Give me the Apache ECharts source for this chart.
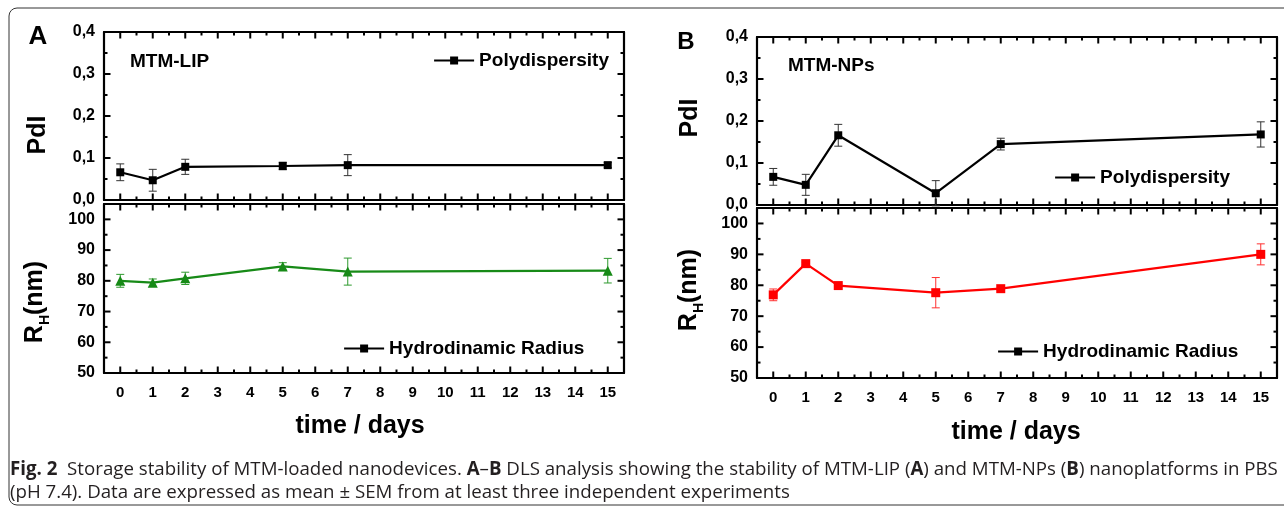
<!DOCTYPE html>
<html>
<head>
<meta charset="utf-8">
<script src="https://cdn.jsdelivr.net/npm/echarts@6/dist/echarts.min.js"></script>
<style>html,body{margin:0;padding:0;background:#fff;}#c{width:1284px;height:511px;background:#fff;}</style>
</head>
<body>
<div id="c"></div>
<script>
// ---------- data ----------
const days = [0, 1, 2, 5, 7, 15];
const lipPdi = [0.066, 0.047, 0.079, 0.081, 0.083, 0.083];
const lipPdiErr = [0.020, 0.026, 0.018, 0.009, 0.025, 0.006];
const lipRh = [80.0, 79.4, 80.8, 84.7, 83.0, 83.3];
const lipRhErr = [2.1, 1.2, 2.0, 1.2, 4.4, 4.0];
const npPdi = [0.067, 0.048, 0.166, 0.028, 0.145, 0.168];
const npPdiErr = [0.020, 0.025, 0.026, 0.030, 0.014, 0.030];
const npRh = [76.9, 87.0, 79.9, 77.6, 78.9, 90.0];
const npRhErr = [1.9, 0.5, 0.7, 4.9, 0.5, 3.4];

// ---------- tick values ----------
const xLabels = [0, 1, 2, 3, 4, 5, 6, 7, 8, 9, 10, 11, 12, 13, 14, 15];
const xMinor = [0.5, 1.5, 2.5, 3.5, 4.5, 5.5, 6.5, 7.5, 8.5, 9.5, 10.5, 11.5, 12.5, 13.5, 14.5];
const pdiLabels = [0, 0.1, 0.2, 0.3, 0.4];
const pdiMinor = [0.05, 0.15, 0.25, 0.35];
const rhLabels = [50, 60, 70, 80, 90, 100];
const rhMinor = [55, 65, 75, 85, 95];

// axis ranges
const X_RANGE = [-0.5, 15.5];
const PDI_RANGE = [0, 0.4];
const RH_RANGE = [50, 105];

const FONT = 'Liberation Sans, Arial, sans-serif';
const chart = echarts.init(document.getElementById('c'));

const grids = [
  {left: 104, top: 32, width: 520, height: 168},
  {left: 104, top: 204, width: 520, height: 169},
  {left: 757, top: 37, width: 520, height: 168},
  {left: 757, top: 208, width: 520, height: 170}
];

const MAJOR = 6.5, MINOR = 3.5;
const xAxes = [], yAxes = [];
function xAxis(g, pos, labels) {
  xAxes.push({
    type: 'value', gridIndex: g, position: pos, min: X_RANGE[0], max: X_RANGE[1],
    splitLine: {show: false}, axisTick: {show: false}, minorTick: {show: false},
    axisLine: {show: true, onZero: false, lineStyle: {color: '#000', width: 2.2}},
    axisLabel: {show: labels, customValues: xLabels, color: '#000', fontWeight: 'bold', fontFamily: FONT, fontSize: 15, margin: 12}
  });
}
function yAxis(g, pos, labels, range, vals, fmt) {
  yAxes.push({
    type: 'value', gridIndex: g, position: pos, min: range[0], max: range[1],
    splitLine: {show: false}, axisTick: {show: false}, minorTick: {show: false},
    axisLine: {show: true, onZero: false, lineStyle: {color: '#000', width: 2.2}},
    axisLabel: {show: labels, customValues: vals, formatter: fmt,
      color: '#000', fontWeight: 'bold', fontFamily: FONT, fontSize: 16, margin: 9}
  });
}
const pdiFmt = v => v.toFixed(1).replace('.', ',');
const rhFmt = v => String(Math.round(v));
[0, 1, 2, 3].forEach(g => {
  xAxis(g, 'bottom', g === 1 || g === 3);
  xAxis(g, 'top', false);
  if (g % 2 === 0) {
    yAxis(g, 'left', true, PDI_RANGE, pdiLabels, pdiFmt);
    yAxis(g, 'right', false, PDI_RANGE, pdiLabels, pdiFmt);
  } else {
    yAxis(g, 'left', true, RH_RANGE, rhLabels, rhFmt);
    yAxis(g, 'right', false, RH_RANGE, rhLabels, rhFmt);
  }
});

const series = [];
// inward tick marks on all four sides; every end point comes from the axis scales via api.coord
function tickSeries(g, vals, dir, len, yRange) {
  const anchorY = (yRange[0] + yRange[1]) / 2, anchorX = 7;
  series.push({
    type: 'custom', name: 'ticks-' + g + '-' + dir + '-' + len, coordinateSystem: 'cartesian2d',
    xAxisIndex: 2 * g, yAxisIndex: 2 * g, encode: {x: 0, y: 1}, silent: true,
    itemStyle: {color: '#000'}, z: 2,
    data: vals.map(v => dir === 'x' ? [v, anchorY] : [anchorX, v]),
    renderItem: function (params, api) {
      const st = {stroke: '#000', lineWidth: 2};
      if (dir === 'x') {
        const v = api.value(0);
        const b = api.coord([v, yRange[0]]), t = api.coord([v, yRange[1]]);
        return {type: 'group', children: [
          {type: 'line', shape: {x1: b[0], y1: b[1], x2: b[0], y2: b[1] - len}, style: st},
          {type: 'line', shape: {x1: t[0], y1: t[1], x2: t[0], y2: t[1] + len}, style: st}
        ]};
      }
      const v = api.value(1);
      const l = api.coord([X_RANGE[0], v]), r = api.coord([X_RANGE[1], v]);
      return {type: 'group', children: [
        {type: 'line', shape: {x1: l[0], y1: l[1], x2: l[0] + len, y2: l[1]}, style: st},
        {type: 'line', shape: {x1: r[0], y1: r[1], x2: r[0] - len, y2: r[1]}, style: st}
      ]};
    }
  });
}
[0, 1, 2, 3].forEach(g => {
  const pdi = g % 2 === 0;
  const yr = pdi ? PDI_RANGE : RH_RANGE;
  tickSeries(g, xLabels, 'x', MAJOR, yr);
  tickSeries(g, xMinor, 'x', MINOR, yr);
  tickSeries(g, pdi ? pdiLabels : rhLabels, 'y', MAJOR, yr);
  tickSeries(g, pdi ? pdiMinor : rhMinor, 'y', MINOR, yr);
});

function errRender(params, api) {
  const x = api.value(0), y = api.value(1), e = api.value(2);
  const hi = api.coord([x, y + e]), lo = api.coord([x, y - e]);
  const w = 4;
  const st = {stroke: api.visual('color'), lineWidth: 1};
  return {type: 'group', children: [
    {type: 'line', shape: {x1: hi[0], y1: hi[1], x2: lo[0], y2: lo[1]}, style: st},
    {type: 'line', shape: {x1: hi[0] - w, y1: hi[1], x2: hi[0] + w, y2: hi[1]}, style: st},
    {type: 'line', shape: {x1: lo[0] - w, y1: lo[1], x2: lo[0] + w, y2: lo[1]}, style: st}
  ]};
}
function addSeries(g, name, vals, errs, color, errColor, sym, symSize) {
  series.push({
    type: 'custom', name: name + '-err-' + g, coordinateSystem: 'cartesian2d',
    xAxisIndex: 2 * g, yAxisIndex: 2 * g, renderItem: errRender,
    itemStyle: {color: errColor}, encode: {x: 0, y: 1}, silent: true,
    data: days.map((d, i) => [d, vals[i], errs[i]]), z: 2
  });
  series.push({
    type: 'line', name: name, xAxisIndex: 2 * g, yAxisIndex: 2 * g,
    symbol: 'rect', symbolSize: symSize,
    lineStyle: {color: color, width: 2.2}, itemStyle: {color: color},
    data: days.map((d, i) => ({value: [d, vals[i]], symbol: sym})),
    z: 3, silent: true
  });
}
addSeries(0, 'Polydispersity', lipPdi, lipPdiErr, '#000', '#333', 'rect', 8);
addSeries(1, 'Hydrodinamic Radius', lipRh, lipRhErr, '#178a17', '#2e9a2e', 'triangle', 10);
addSeries(2, 'Polydispersity', npPdi, npPdiErr, '#000', '#333', 'rect', 8);
addSeries(3, 'Hydrodinamic Radius', npRh, npRhErr, '#ff0000', '#ff3030', 'rect', 9);

function mkLegend(name, left, top) {
  return {
    left: left, top: top, padding: 0, itemWidth: 40, itemHeight: 10, selectedMode: false,
    textStyle: {color: '#000', fontWeight: 'bold', fontSize: 19, fontFamily: FONT},
    data: [{name: name, itemStyle: {color: '#000'}, lineStyle: {color: '#000', width: 2.2}}]
  };
}

const titleStyle = {fill: '#000', fontWeight: 'bold', fontFamily: FONT};
function txt(text, x, y, size, opts) {
  return Object.assign({type: 'text', x: x, y: y, silent: true,
    style: Object.assign({text: text, fontSize: size, align: 'center', verticalAlign: 'middle'}, titleStyle)}, opts || {});
}
function leftTxt(text, x, y, size) {
  return {type: 'text', x: x, y: y, silent: true,
    style: Object.assign({text: text, fontSize: size, align: 'left', verticalAlign: 'middle'}, titleStyle)};
}
function rhTitle(x, y) {
  return {type: 'text', x: x, y: y, rotation: Math.PI / 2, silent: true,
    style: {text: '{r|R}{s|H}{r|(nm)}', align: 'center', verticalAlign: 'middle', fill: '#000',
      rich: {r: {fontSize: 25, fontWeight: 'bold', fontFamily: FONT, fill: '#000', verticalAlign: 'bottom'},
             s: {fontSize: 14, fontWeight: 'bold', fontFamily: FONT, fill: '#000', verticalAlign: 'bottom', padding: [0, 0, -5, 0]}}}};
}
const CAP_FONT = 'Open Sans, sans-serif';
const CAP_SIZE = 18.7;
const capRich = {b: {fontWeight: 'bold', fontFamily: CAP_FONT, fontSize: CAP_SIZE, fill: '#231f20'}};

const option = {
  animation: false,
  grid: grids,
  xAxis: xAxes,
  yAxis: yAxes,
  legend: [
    mkLegend('Polydispersity', 433, 51),
    mkLegend('Hydrodinamic Radius', 343, 339),
    mkLegend('Polydispersity', 1054, 168),
    mkLegend('Hydrodinamic Radius', 997, 342)
  ],
  series: series,
  graphic: [
    {type: 'rect', silent: true, z: -10, shape: {x: 9, y: 8, width: 1290, height: 497, r: 8}, style: {fill: 'transparent', stroke: '#333', lineWidth: 1}},
    txt('A', 38, 37, 26),
    txt('B', 686, 42, 24),
    leftTxt('MTM-LIP', 130, 62, 19),
    leftTxt('MTM-NPs', 788, 66, 19),
    txt('PdI', 38, 135, 25, {rotation: Math.PI / 2}),
    txt('PdI', 690, 118, 25, {rotation: Math.PI / 2}),
    rhTitle(35, 302),
    rhTitle(689, 290),
    txt('time / days', 360, 426, 25),
    txt('time / days', 1016, 432, 25),
    {type: 'text', x: 10, y: 470, silent: true,
      style: {text: '{b|Fig. 2}  Storage stability of MTM-loaded nanodevices. {b|A}–{b|B} DLS analysis showing the stability of MTM-LIP ({b|A}) and MTM-NPs ({b|B}) nanoplatforms in PBS',
        fontFamily: CAP_FONT, fontSize: CAP_SIZE, fill: '#231f20', align: 'left', verticalAlign: 'middle', rich: capRich}},
    {type: 'text', x: 10, y: 493, silent: true,
      style: {text: '(pH 7.4). Data are expressed as mean ± SEM from at least three independent experiments',
        fontFamily: CAP_FONT, fontSize: CAP_SIZE, fill: '#231f20', align: 'left', verticalAlign: 'middle'}}
  ]
};
chart.setOption(option);
</script>
</body>
</html>
